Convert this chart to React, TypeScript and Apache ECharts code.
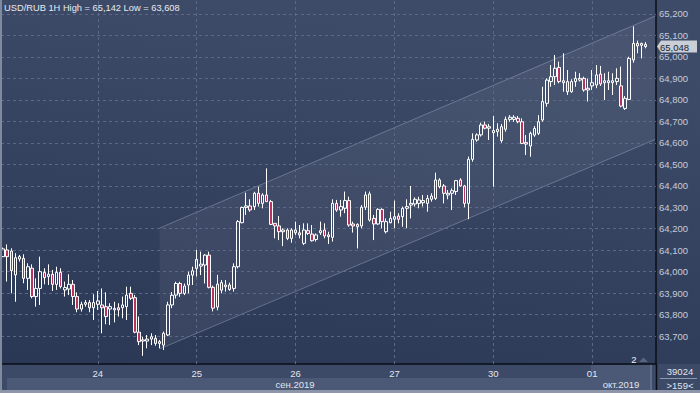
import React, { useEffect, useRef } from "react";
import * as echarts from "echarts";

// ---- data ----
const days = ["23", "24", "25", "26", "27", "30", "01"];
const firstHour = [1, 0, 0, 0, 0, 0, 0];
const slotsPerDay = [23, 24, 24, 24, 24, 24, 16];
const monthLabels = ["сен.2019", "окт.2019"];
const yTicks = [63.7, 63.8, 63.9, 64.0, 64.1, 64.2, 64.3, 64.4, 64.5, 64.6, 64.7, 64.8, 64.9, 65.0, 65.1, 65.2];
const volumeInfo = "39024";
const barsInfo = ">159<";
const markerLabel = "2";

// [open, close, low, high]
const sep23 = [
  [64.070, 64.106, 64.068, 64.112], [64.101, 64.070, 63.954, 64.127], [64.096, 64.005, 63.899, 64.109],
  [63.985, 64.065, 63.860, 64.086], [64.059, 64.070, 64.047, 64.078], [64.062, 63.969, 63.946, 64.081],
  [63.969, 64.023, 63.915, 64.039], [64.016, 63.884, 63.876, 64.034], [63.884, 63.922, 63.837, 63.969],
  [63.922, 64.000, 63.845, 64.070], [63.997, 63.972, 63.941, 64.016], [63.977, 63.988, 63.938, 64.034],
  [63.988, 63.941, 63.910, 64.008], [63.941, 63.997, 63.915, 64.023], [63.997, 63.930, 63.922, 64.016],
  [63.915, 63.926, 63.884, 63.954], [63.919, 63.941, 63.891, 63.988], [63.941, 63.884, 63.845, 63.961],
  [63.884, 63.826, 63.811, 63.904], [63.826, 63.848, 63.814, 63.860], [63.848, 63.856, 63.837, 63.868],
  [63.856, 63.832, 63.811, 63.868], [63.832, 63.856, 63.775, 63.895],
];
const sep24 = [
  [63.848, 63.864, 63.822, 63.910], [63.845, 63.832, 63.713, 63.922], [63.837, 63.791, 63.755, 63.904],
  [63.826, 63.837, 63.752, 63.853], [63.822, 63.829, 63.764, 63.860], [63.832, 63.822, 63.791, 63.853],
  [63.832, 63.845, 63.783, 63.884], [63.837, 63.891, 63.775, 63.930], [63.899, 63.876, 63.868, 63.930],
  [63.879, 63.718, 63.713, 63.891], [63.718, 63.674, 63.658, 63.791], [63.677, 63.682, 63.608, 63.697],
  [63.677, 63.686, 63.643, 63.705], [63.686, 63.697, 63.658, 63.713], [63.690, 63.666, 63.655, 63.705],
  [63.666, 63.674, 63.643, 63.682], [63.658, 63.713, 63.635, 63.721], [63.705, 63.845, 63.700, 63.860],
  [63.845, 63.890, 63.830, 63.905], [63.891, 63.945, 63.875, 63.953], [63.945, 63.899, 63.883, 63.953],
  [63.899, 63.933, 63.891, 63.945], [63.938, 63.984, 63.899, 64.000], [63.984, 64.004, 63.938, 64.023],
];
const sep25 = [
  [64.015, 64.057, 63.977, 64.101], [64.026, 64.035, 63.984, 64.093], [64.031, 64.077, 63.945, 64.082],
  [64.077, 63.927, 63.922, 64.093], [63.927, 63.830, 63.815, 63.935], [63.835, 63.942, 63.820, 63.985],
  [63.914, 63.949, 63.899, 63.961], [63.930, 63.938, 63.907, 63.961], [63.938, 63.917, 63.911, 63.949],
  [63.922, 64.023, 63.907, 64.039], [64.023, 64.233, 64.015, 64.240], [64.228, 64.299, 64.225, 64.303],
  [64.299, 64.306, 64.264, 64.368], [64.306, 64.287, 64.279, 64.337], [64.303, 64.365, 64.287, 64.372],
  [64.365, 64.318, 64.303, 64.396], [64.318, 64.357, 64.295, 64.365], [64.357, 64.326, 64.326, 64.481],
  [64.326, 64.220, 64.217, 64.334], [64.225, 64.213, 64.155, 64.225], [64.213, 64.186, 64.147, 64.259],
  [64.186, 64.194, 64.119, 64.202], [64.194, 64.155, 64.147, 64.202], [64.155, 64.194, 64.135, 64.202],
];
const sep26 = [
  [64.194, 64.181, 64.171, 64.233], [64.181, 64.171, 64.155, 64.217], [64.132, 64.194, 64.124, 64.225],
  [64.191, 64.178, 64.171, 64.225], [64.175, 64.144, 64.140, 64.217], [64.150, 64.171, 64.140, 64.178],
  [64.181, 64.191, 64.171, 64.233], [64.194, 64.166, 64.155, 64.225], [64.171, 64.163, 64.129, 64.186],
  [64.160, 64.318, 64.140, 64.337], [64.318, 64.287, 64.279, 64.334], [64.287, 64.303, 64.256, 64.334],
  [64.295, 64.331, 64.272, 64.373], [64.331, 64.217, 64.209, 64.349], [64.222, 64.213, 64.182, 64.233],
  [64.220, 64.209, 64.108, 64.225], [64.213, 64.300, 64.202, 64.310], [64.300, 64.357, 64.287, 64.373],
  [64.362, 64.240, 64.233, 64.373], [64.248, 64.222, 64.147, 64.264], [64.222, 64.290, 64.217, 64.295],
  [64.290, 64.233, 64.202, 64.295], [64.186, 64.233, 64.178, 64.248], [64.228, 64.248, 64.225, 64.279],
];
const sep27 = [
  [64.244, 64.256, 64.202, 64.331], [64.259, 64.244, 64.225, 64.272], [64.256, 64.295, 64.209, 64.303],
  [64.295, 64.303, 64.202, 64.337], [64.310, 64.318, 64.248, 64.399], [64.315, 64.337, 64.303, 64.346],
  [64.318, 64.334, 64.295, 64.349], [64.321, 64.331, 64.303, 64.357], [64.318, 64.341, 64.279, 64.357],
  [64.337, 64.352, 64.326, 64.365], [64.341, 64.427, 64.334, 64.461], [64.427, 64.396, 64.388, 64.435],
  [64.399, 64.365, 64.318, 64.408], [64.357, 64.365, 64.337, 64.380], [64.365, 64.377, 64.287, 64.388],
  [64.373, 64.424, 64.357, 64.427], [64.427, 64.399, 64.396, 64.435], [64.399, 64.318, 64.300, 64.404],
  [64.318, 64.523, 64.244, 64.536], [64.523, 64.616, 64.512, 64.644], [64.613, 64.637, 64.605, 64.644],
  [64.637, 64.683, 64.629, 64.694], [64.683, 64.668, 64.663, 64.699], [64.668, 64.675, 64.613, 64.688],
];
const sep30 = [
  [64.647, 64.657, 64.396, 64.725], [64.652, 64.663, 64.629, 64.691], [64.610, 64.675, 64.600, 64.688],
  [64.663, 64.709, 64.652, 64.722], [64.709, 64.719, 64.698, 64.729], [64.709, 64.719, 64.698, 64.729],
  [64.714, 64.698, 64.691, 64.725], [64.698, 64.597, 64.594, 64.714], [64.601, 64.594, 64.543, 64.636],
  [64.585, 64.644, 64.535, 64.652], [64.636, 64.667, 64.628, 64.678], [64.644, 64.698, 64.636, 64.729],
  [64.706, 64.792, 64.698, 64.861], [64.784, 64.892, 64.768, 64.900], [64.885, 64.908, 64.861, 64.962],
  [64.908, 64.947, 64.869, 65.009], [64.951, 64.885, 64.877, 64.978], [64.880, 64.889, 64.838, 65.017],
  [64.885, 64.838, 64.823, 64.939], [64.838, 64.885, 64.833, 64.896], [64.885, 64.900, 64.861, 64.931],
  [64.892, 64.900, 64.885, 64.924], [64.900, 64.846, 64.838, 64.908], [64.846, 64.854, 64.792, 64.900],
];
const oct01 = [
  [64.865, 64.880, 64.846, 64.939], [64.869, 64.916, 64.854, 64.962], [64.920, 64.874, 64.865, 64.958],
  [64.880, 64.889, 64.799, 64.924], [64.880, 64.889, 64.846, 64.931], [64.880, 64.889, 64.823, 64.924],
  [64.885, 64.900, 64.869, 64.947], [64.865, 64.771, 64.765, 64.955], [64.760, 64.807, 64.753, 64.818],
  [64.802, 64.993, 64.799, 65.001], [64.986, 65.063, 64.973, 65.142], [65.063, 65.051, 65.017, 65.076],
  [65.054, 65.063, 64.993, 65.066], [65.058, 65.048, 65.040, 65.069],
];

// channel anchors: [category index, price]
const channelUpper = [[38, 64.203], [156, 65.171]];
const channelLower = [[38, 63.640], [156, 64.597]];

const FONT = "'Liberation Sans', Arial, sans-serif";
const fmt = (v: number) => v.toFixed(3).replace(".", ",");

export default function App() {
  const ref = useRef<HTMLDivElement>(null);
  useEffect(() => {
    const chart = echarts.init(ref.current!, null, { renderer: "svg" });
    const categories: string[] = [];
    days.forEach((d, i) => {
      for (let k = 0; k < slotsPerDay[i]; k++) {
        categories.push(`${d} ${String(firstHour[i] + k).padStart(2, "0")}:00`);
      }
    });
    const candles = [...sep23, ...sep24, ...sep25, ...sep26, ...sep27, ...sep30, ...oct01].map(
      ([o, c, l, h]) => [o, c, l, h]
    );
    const hi = Math.max(...candles.map((d) => d[3]));
    const lo = Math.min(...candles.map((d) => d[2]));
    const last = candles[candles.length - 1][1];
    const dayStarts = categories.filter((c) => c.endsWith(" 00:00"));

    const GR = 656; // right edge of plot
    const GB = 364; // bottom of plot

    const option: any = {
      animation: false,
      backgroundColor: "#33415e",
      grid: { left: 1, right: 700 - GR, top: 0, bottom: 393 - GB, containLabel: false },
      xAxis: {
        type: "category",
        data: categories,
        boundaryGap: true,
        axisLine: { show: true, lineStyle: { color: "#0a0e16", width: 1.5 } },
        axisTick: { show: false },
        splitLine: { show: false },
        axisLabel: {
          interval: (_i: number, v: string) => v.endsWith(" 00:00"),
          formatter: (v: string) => v.slice(0, 2),
          color: "#e3e7ef",
          fontSize: 9.5,
          fontFamily: FONT,
          margin: 4,
        },
      },
      yAxis: {
        type: "value",
        position: "right",
        min: 63.57,
        max: 65.265,
        axisLine: { show: true, lineStyle: { color: "#0a0e16", width: 1.5 } },
        axisTick: { show: false },
        splitLine: { show: false },
        axisLabel: {
          customValues: yTicks,
          formatter: (v: number) => fmt(v),
          color: "#c5ccd8",
          fontSize: 9.5,
          fontFamily: FONT,
          margin: 3,
        },
      },
      series: [
        {
          type: "candlestick",
          data: candles,
          barWidth: 3,
          z: 3,
          itemStyle: {
            color: "rgba(0,0,0,0)",
            color0: "#b8345c",
            borderColor: "#ffffff",
            borderColor0: "#ffffff",
            borderWidth: 1,
          },
        },
        {
          type: "line",
          data: [],
          z: 1,
          silent: true,
          markLine: {
            silent: true,
            z: 1,
            symbol: ["none", "none"],
            label: { show: false },
            lineStyle: { type: [3, 3], color: "#5b6986", width: 1 },
            data: [
              ...yTicks.map((v) => ({ yAxis: v })),
              ...dayStarts.map((c) => ({ xAxis: c })),
            ],
          },
        },
      ],
    };
    chart.setOption(option);

    const px = (p: number[]) => chart.convertToPixel({ gridIndex: 0 }, p) as number[];
    const ext = (a: number[], b: number[]) => {
      const s = (b[1] - a[1]) / (b[0] - a[0]);
      return [GR, a[1] + s * (GR - a[0])];
    };
    const u1 = px(channelUpper[0]);
    const u2 = ext(u1, px(channelUpper[1]));
    const l1 = px(channelLower[0]);
    const l2 = ext(l1, px(channelLower[1]));
    const lastY = px([0, last])[1];

    const txt = (x: number, y: number, text: string, extra: any = {}) => ({
      type: "text",
      x,
      y,
      z: 60,
      style: {
        text,
        fill: "#e0e5ee",
        font: `9.5px ${FONT}`,
        textAlign: "center",
        textVerticalAlign: "middle",
        ...extra,
      },
    });

    chart.setOption({
      graphic: [
        {
          type: "rect",
          z: -10,
          shape: { x: 0, y: 0, width: 700, height: GB },
          style: {
            fill: new echarts.graphic.LinearGradient(0.3, 0, 0, 1, [
              { offset: 0, color: "#3e4b68" },
              { offset: 1, color: "#2b3855" },
            ]),
          },
        },
        {
          type: "polygon",
          z: -5,
          shape: { points: [u1, u2, l2, l1] },
          style: { fill: "rgba(255,255,255,0.055)" },
        },
        {
          type: "line",
          z: -4,
          shape: { x1: u1[0], y1: u1[1], x2: u2[0], y2: u2[1] },
          style: { stroke: "rgba(180,192,212,0.38)", lineWidth: 1 },
        },
        {
          type: "line",
          z: -4,
          shape: { x1: l1[0], y1: l1[1], x2: l2[0], y2: l2[1] },
          style: { stroke: "rgba(180,192,212,0.38)", lineWidth: 1 },
        },
        // bottom strips
        { type: "rect", z: -3, shape: { x: 0, y: GB, width: GR, height: 29 }, style: { fill: "#3c4967" } },
        { type: "rect", z: -2, shape: { x: 7, y: 378, width: 584, height: 12 }, style: { fill: "#4b5876" } },
        { type: "rect", z: -2, shape: { x: 591, y: GB + 1, width: 59, height: 25 }, style: { fill: "#4b5876" } },
        { type: "line", z: -1, shape: { x1: 651, y1: GB, x2: 651, y2: 390 }, style: { stroke: "#5f6c88", lineWidth: 2 } },
        { type: "rect", z: -3, shape: { x: GR, y: GB, width: 700 - GR, height: 29 }, style: { fill: "#3c4967" } },
        { type: "line", z: 40, shape: { x1: GR + 0.5, y1: GB, x2: GR + 0.5, y2: 393 }, style: { stroke: "#0a0e16", lineWidth: 1.5 } },
        { type: "line", z: 40, shape: { x1: 660, y1: 378.5, x2: 697, y2: 378.5 }, style: { stroke: "#8a98b0", lineWidth: 1 } },
        { type: "rect", z: 40, shape: { x: 0, y: 0, width: 2, height: 393 }, style: { fill: "#808a9c" } },
        { type: "rect", z: 40, shape: { x: 0, y: 390, width: 700, height: 3 }, style: { fill: "#8d96a8" } },
        txt(295, 384, monthLabels[0]),
        txt(621, 384, monthLabels[1]),
        txt(680, 371, volumeInfo),
        txt(680, 385, barsInfo),
        txt(634, 359, markerLabel, { fill: "#eef1f6" }),
        {
          type: "polygon",
          z: 30,
          shape: { points: [[639, 362], [643.5, 357.5], [648, 362]] },
          style: { fill: "#56647f" },
        },
        // current price marker
        {
          type: "polygon",
          z: 60,
          shape: {
            points: [
              [GR + 1, lastY],
              [GR + 5, lastY - 6],
              [697, lastY - 6],
              [697, lastY + 6],
              [GR + 5, lastY + 6],
            ],
          },
          style: { fill: "#c9ced7" },
        },
        txt(GR + 4, lastY + 0.5, fmt(last), { textAlign: "left", fill: "#1a1f2b" }),
        txt(4, 8, `USD/RUB 1H High = ${fmt(hi)} Low = ${fmt(lo)}`, {
          textAlign: "left",
          fill: "#e6eaf1",
          font: `9.3px ${FONT}`,
        }),
      ],
    });

    return () => chart.dispose();
  }, []);
  return <div ref={ref} style={{ position: "fixed", left: 0, top: 0, width: 700, height: 393 }} />;
}
